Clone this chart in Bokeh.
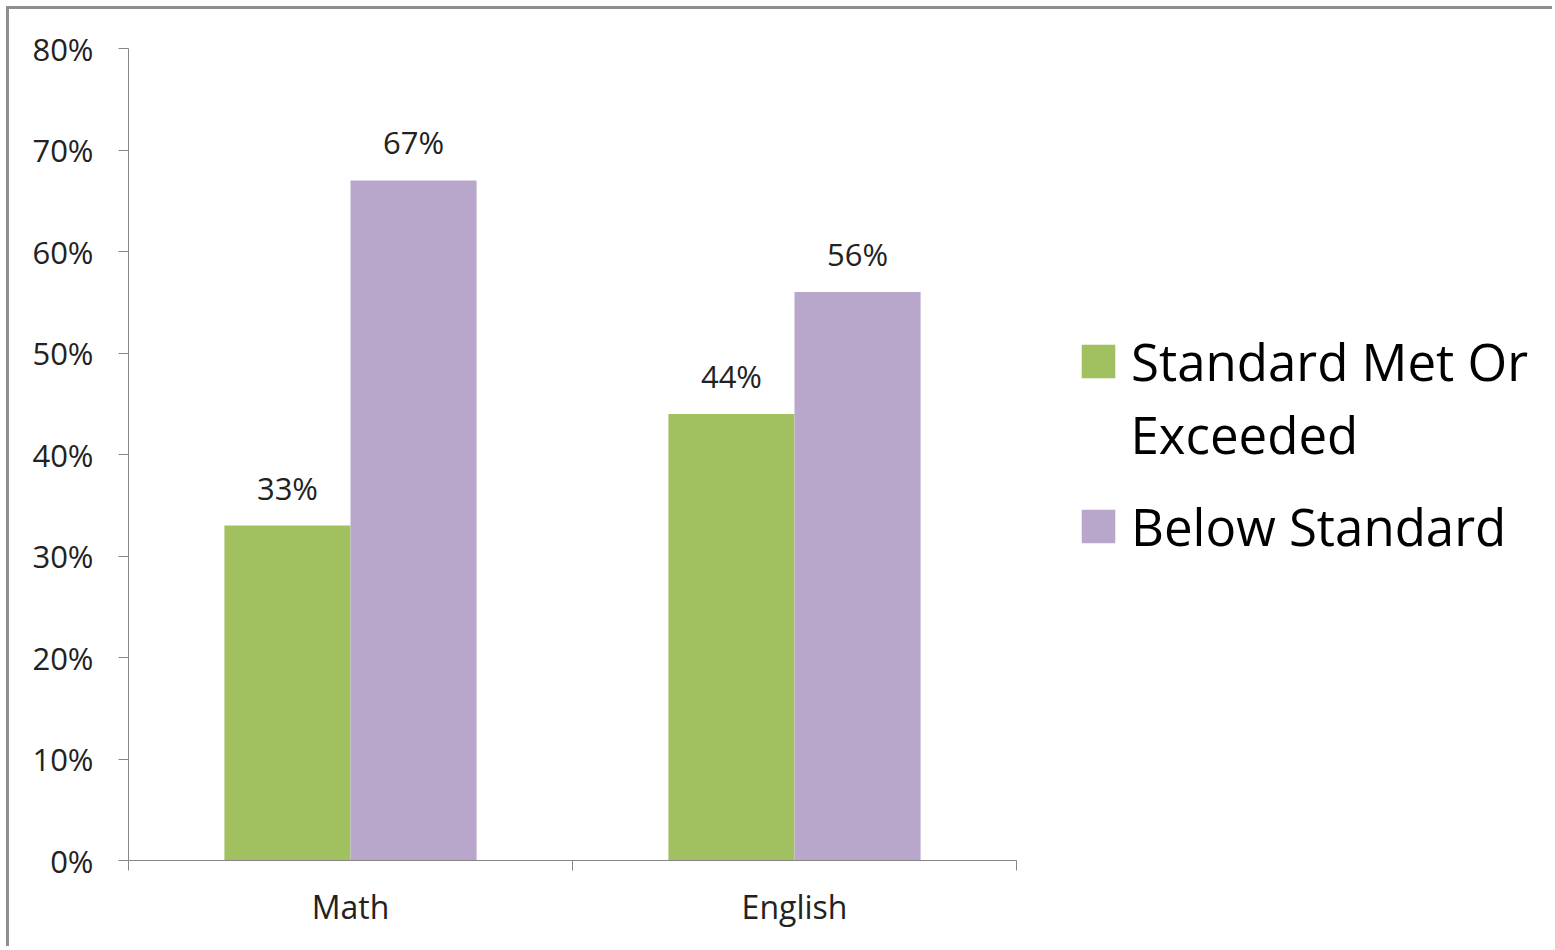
from bokeh.plotting import figure
from bokeh.models import (ColumnDataSource, Range1d, FixedTicker, NumeralTickFormatter,
                          LabelSet, Label, Legend, LegendItem)
from bokeh.core.properties import value
from bokeh.transform import dodge
from bokeh.embed import file_html
from bokeh.resources import INLINE

categories = ["Math", "English"]
met_or_exceeded = [0.33, 0.44]
below_standard = [0.67, 0.56]
series_names = ["Standard Met Or", "Below Standard"]
series_name_cont = "Exceeded"
y_ticks = [0.0, 0.1, 0.2, 0.3, 0.4, 0.5, 0.6, 0.7, 0.8]

GREEN = "#A1C060"
PURPLE = "#B8A7CB"
AXIS = "#868686"
FONT = "Open Sans"

# layout (pixels)
W, H = 1546, 940
LEFT, TOP, BOTTOM = 119, 39, 89
CAT_PX = 444  # pixel width per category

xs = [i + 0.5 for i in range(len(categories))]
src = ColumnDataSource(dict(
    x=xs, cat=categories, met=met_or_exceeded, below=below_standard,
    met_lbl=[f"{round(v*100)}%" for v in met_or_exceeded],
    below_lbl=[f"{round(v*100)}%" for v in below_standard],
))

x_end = (W - LEFT) / CAT_PX
p = figure(width=W, height=H, x_range=Range1d(0, x_end),
           y_range=Range1d(0, 0.8), output_backend="svg", toolbar_location=None,
           min_border_left=LEFT, min_border_top=TOP, min_border_bottom=BOTTOM,
           min_border_right=0)
p.styles = {"margin-left": "6px", "margin-top": "6px",
            "border-left": "3px solid #8f8f8f", "border-top": "3px solid #8f8f8f"}
p.outline_line_color = None
p.xgrid.visible = False
p.ygrid.visible = False

off = 0.142
w = 0.284
r1 = p.vbar(x=dodge("x", -off, range=p.x_range), top="met", width=w, source=src,
            fill_color=GREEN, line_color=None)
r2 = p.vbar(x=dodge("x", off, range=p.x_range), top="below", width=w, source=src,
            fill_color=PURPLE, line_color=None)

for field, top, o in (("met_lbl", "met", -off), ("below_lbl", "below", off)):
    p.add_layout(LabelSet(x=dodge("x", o, range=p.x_range), y=top, text=field, source=src,
                          text_align="center", text_baseline="alphabetic", y_offset=26,
                          text_font=value(FONT), text_font_size="31px",
                          text_color="#222222"))

xa = p.xaxis[0]
xa.bounds = (0, len(categories))
xa.ticker = FixedTicker(ticks=xs, minor_ticks=list(range(len(categories) + 1)))
xa.major_label_overrides = {x: c for x, c in zip(xs, categories)}
xa.major_tick_line_color = None
xa.major_tick_out = 0
xa.major_tick_in = 0
xa.minor_tick_in = 0
xa.minor_tick_out = 10
xa.minor_tick_line_color = AXIS
xa.axis_line_color = AXIS
xa.major_label_text_font = FONT
xa.major_label_text_font_size = "32px"
xa.major_label_text_color = "#222222"
xa.major_label_standoff = 14

ya = p.yaxis[0]
ya.ticker = FixedTicker(ticks=y_ticks)
ya.formatter = NumeralTickFormatter(format="0%")
ya.major_tick_in = 0
ya.major_tick_out = 10
ya.major_tick_line_color = AXIS
ya.minor_tick_line_color = None
ya.axis_line_color = AXIS
ya.major_label_text_font = FONT
ya.major_label_text_font_size = "31px"
ya.major_label_text_color = "#222222"
ya.major_label_standoff = 25

legend = Legend(items=[LegendItem(label=series_names[0], renderers=[r1]),
                       LegendItem(label=series_names[1], renderers=[r2])],
                location=(949, 299), orientation="vertical")
legend.margin = 0
legend.padding = 0
legend.border_line_color = None
legend.background_fill_alpha = 0
legend.glyph_width = 42
legend.glyph_height = 42
legend.label_standoff = 12
legend.spacing = 95
legend.label_text_font = FONT
legend.label_text_font_size = "51px"
legend.label_text_color = "#000000"
p.add_layout(legend)

p.add_layout(Label(x=1002, y=427, x_units="screen", y_units="screen",
                   text=series_name_cont, text_baseline="alphabetic",
                   text_font=FONT, text_font_size="51px",
                   text_color="#000000"))

open("out.html", "w").write(file_html(p, INLINE))
